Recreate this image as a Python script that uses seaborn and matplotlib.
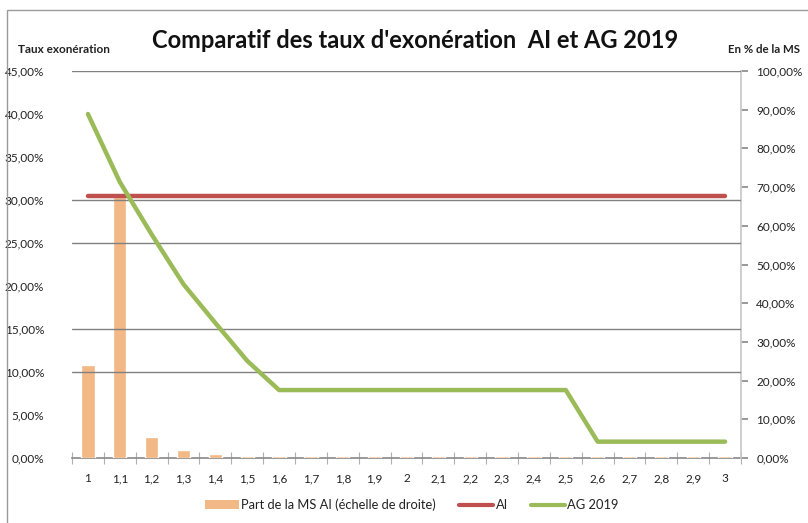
import numpy as np
import pandas as pd
import matplotlib
matplotlib.use("Agg")
import matplotlib.pyplot as plt
import matplotlib.ticker as mticker
from matplotlib.patches import Patch, Rectangle
from matplotlib.lines import Line2D
import seaborn as sns

categories = ["1", "1,1", "1,2", "1,3", "1,4", "1,5", "1,6", "1,7", "1,8", "1,9", "2",
              "2,1", "2,2", "2,3", "2,4", "2,5", "2,6", "2,7", "2,8", "2,9", "3"]
part_ms_ai = [24.0, 67.5, 5.4, 2.1, 1.1, 0.6, 0.5, 0.5, 0.5, 0.5, 0.5,
              0.5, 0.5, 0.5, 0.5, 0.5, 0.5, 0.5, 0.5, 0.5, 0.5]
taux_ai = [30.5] * 21
taux_ag2019 = [40.0, 32.1, 26.0, 20.2, 15.7, 11.3, 7.9, 7.9, 7.9, 7.9, 7.9,
               7.9, 7.9, 7.9, 7.9, 7.9, 1.9, 1.9, 1.9, 1.9, 1.9]
left_ticks = [0, 5, 10, 15, 20, 25, 30, 35, 40, 45]
right_ticks = [0, 10, 20, 30, 40, 50, 60, 70, 80, 90, 100]
grid_levels = [10, 15, 25, 30, 45]

sns.set_theme(style="white")
plt.rcParams["font.family"] = ["Lato", "DejaVu Sans"]

C_BAR = "#F2B886"
C_AI = "#C0504D"
C_AG = "#9BBB59"
C_TXT = "#222222"

df = pd.DataFrame({"cat": categories, "ms": part_ms_ai,
                   "ai": taux_ai, "ag": taux_ag2019})
df["pos"] = np.arange(len(df))

fmt = mticker.FuncFormatter(lambda v, p: f"{v:.2f}%".replace(".", ","))

fig = plt.figure(figsize=(8.08, 5.23), dpi=100)
fig.patches.append(Rectangle((7 / 808, -0.1), 1.2, 1 - 10 / 523 + 0.1,
                             transform=fig.transFigure, fill=False,
                             edgecolor="#9a9a9a", linewidth=1.0, zorder=0))

ax = fig.add_axes([72 / 808, 1 - 458 / 523, (741 - 72) / 808, (458 - 71) / 523])
sns.barplot(data=df, x="cat", y="ms", color=C_BAR, saturation=1, width=0.42,
            ax=ax, zorder=2)
ax.set_ylim(0, 100)
ax.set_xlim(-0.5, len(categories) - 0.5)
for g in grid_levels:
    ax.axhline(g / 45 * 100, color="#808080", linewidth=1.0, zorder=3)

ax2 = ax.twinx()
ax2.set_ylim(0, 45)
sns.lineplot(x=df["pos"], y=df["ai"], color=C_AI, linewidth=3.2, ax=ax2)
sns.lineplot(x=df["pos"], y=df["ag"], color=C_AG, linewidth=3.2, ax=ax2)
ax2.set_xlim(-0.5, len(categories) - 0.5)

# right axis: share of MS (bars)
ax.yaxis.tick_right()
ax.yaxis.set_label_position("right")
ax.set_yticks(right_ticks)
ax.yaxis.set_major_formatter(fmt)
ax.set_xlabel("")
ax.set_ylabel("")
for s in ["top", "left"]:
    ax.spines[s].set_visible(False)
ax.spines["right"].set_color("#c8c8c8")
ax.spines["bottom"].set_color("#8c8c8c")
ax.spines["bottom"].set_zorder(1)
ax.tick_params(axis="y", which="major", left=False, right=True, labelleft=False,
               labelright=True, direction="out", length=5,
               color="#8c8c8c", labelsize=8.5, labelcolor=C_TXT, pad=6)
ax.set_xticks(np.arange(len(categories)))
ax.set_xticklabels(categories)
ax.tick_params(axis="x", which="major", length=0, labelsize=8.5, labelcolor=C_TXT, pad=11)
ax.set_xticks(np.arange(len(categories) + 1) - 0.5, minor=True)
ax.tick_params(axis="x", which="minor", bottom=True, direction="inout", length=8,
               color="#b0b0b0", width=0.8)

# left axis: rates
ax2.yaxis.tick_left()
ax2.set_yticks(left_ticks)
ax2.yaxis.set_major_formatter(fmt)
ax2.tick_params(axis="y", left=False, right=False, labelleft=True, labelright=False,
                labelsize=8.5, labelcolor=C_TXT, pad=14)
ax2.set_xlabel("")
ax2.set_ylabel("")
for s in ax2.spines.values():
    s.set_visible(False)

fig.text(415 / 808, 1 - 40 / 523, "Comparatif des taux d'exonération  AI et AG 2019",
         ha="center", va="center", fontsize=17, fontweight="bold", color="#111111")
fig.text(18 / 808, 1 - 49 / 523, "Taux exonération", ha="left", va="center",
         fontsize=8.5, fontweight="bold", color=C_TXT)
fig.text(800 / 808, 1 - 49 / 523, "En % de la MS", ha="right", va="center",
         fontsize=8.3, fontweight="bold", color=C_TXT)

handles = [Patch(facecolor=C_BAR, edgecolor="none"),
           Line2D([0], [0], color=C_AI, linewidth=3),
           Line2D([0], [0], color=C_AG, linewidth=3)]
labels = ["Part de la MS AI (échelle de droite)", "AI", "AG 2019"]
fig.legend(handles, labels, loc="center", bbox_to_anchor=(412 / 808, 1 - 505 / 523),
           ncol=3, frameon=False, fontsize=9.3, handlelength=2.6, handletextpad=0.2,
           columnspacing=1.8, labelcolor=C_TXT)

fig.savefig("out.png", dpi=100)
